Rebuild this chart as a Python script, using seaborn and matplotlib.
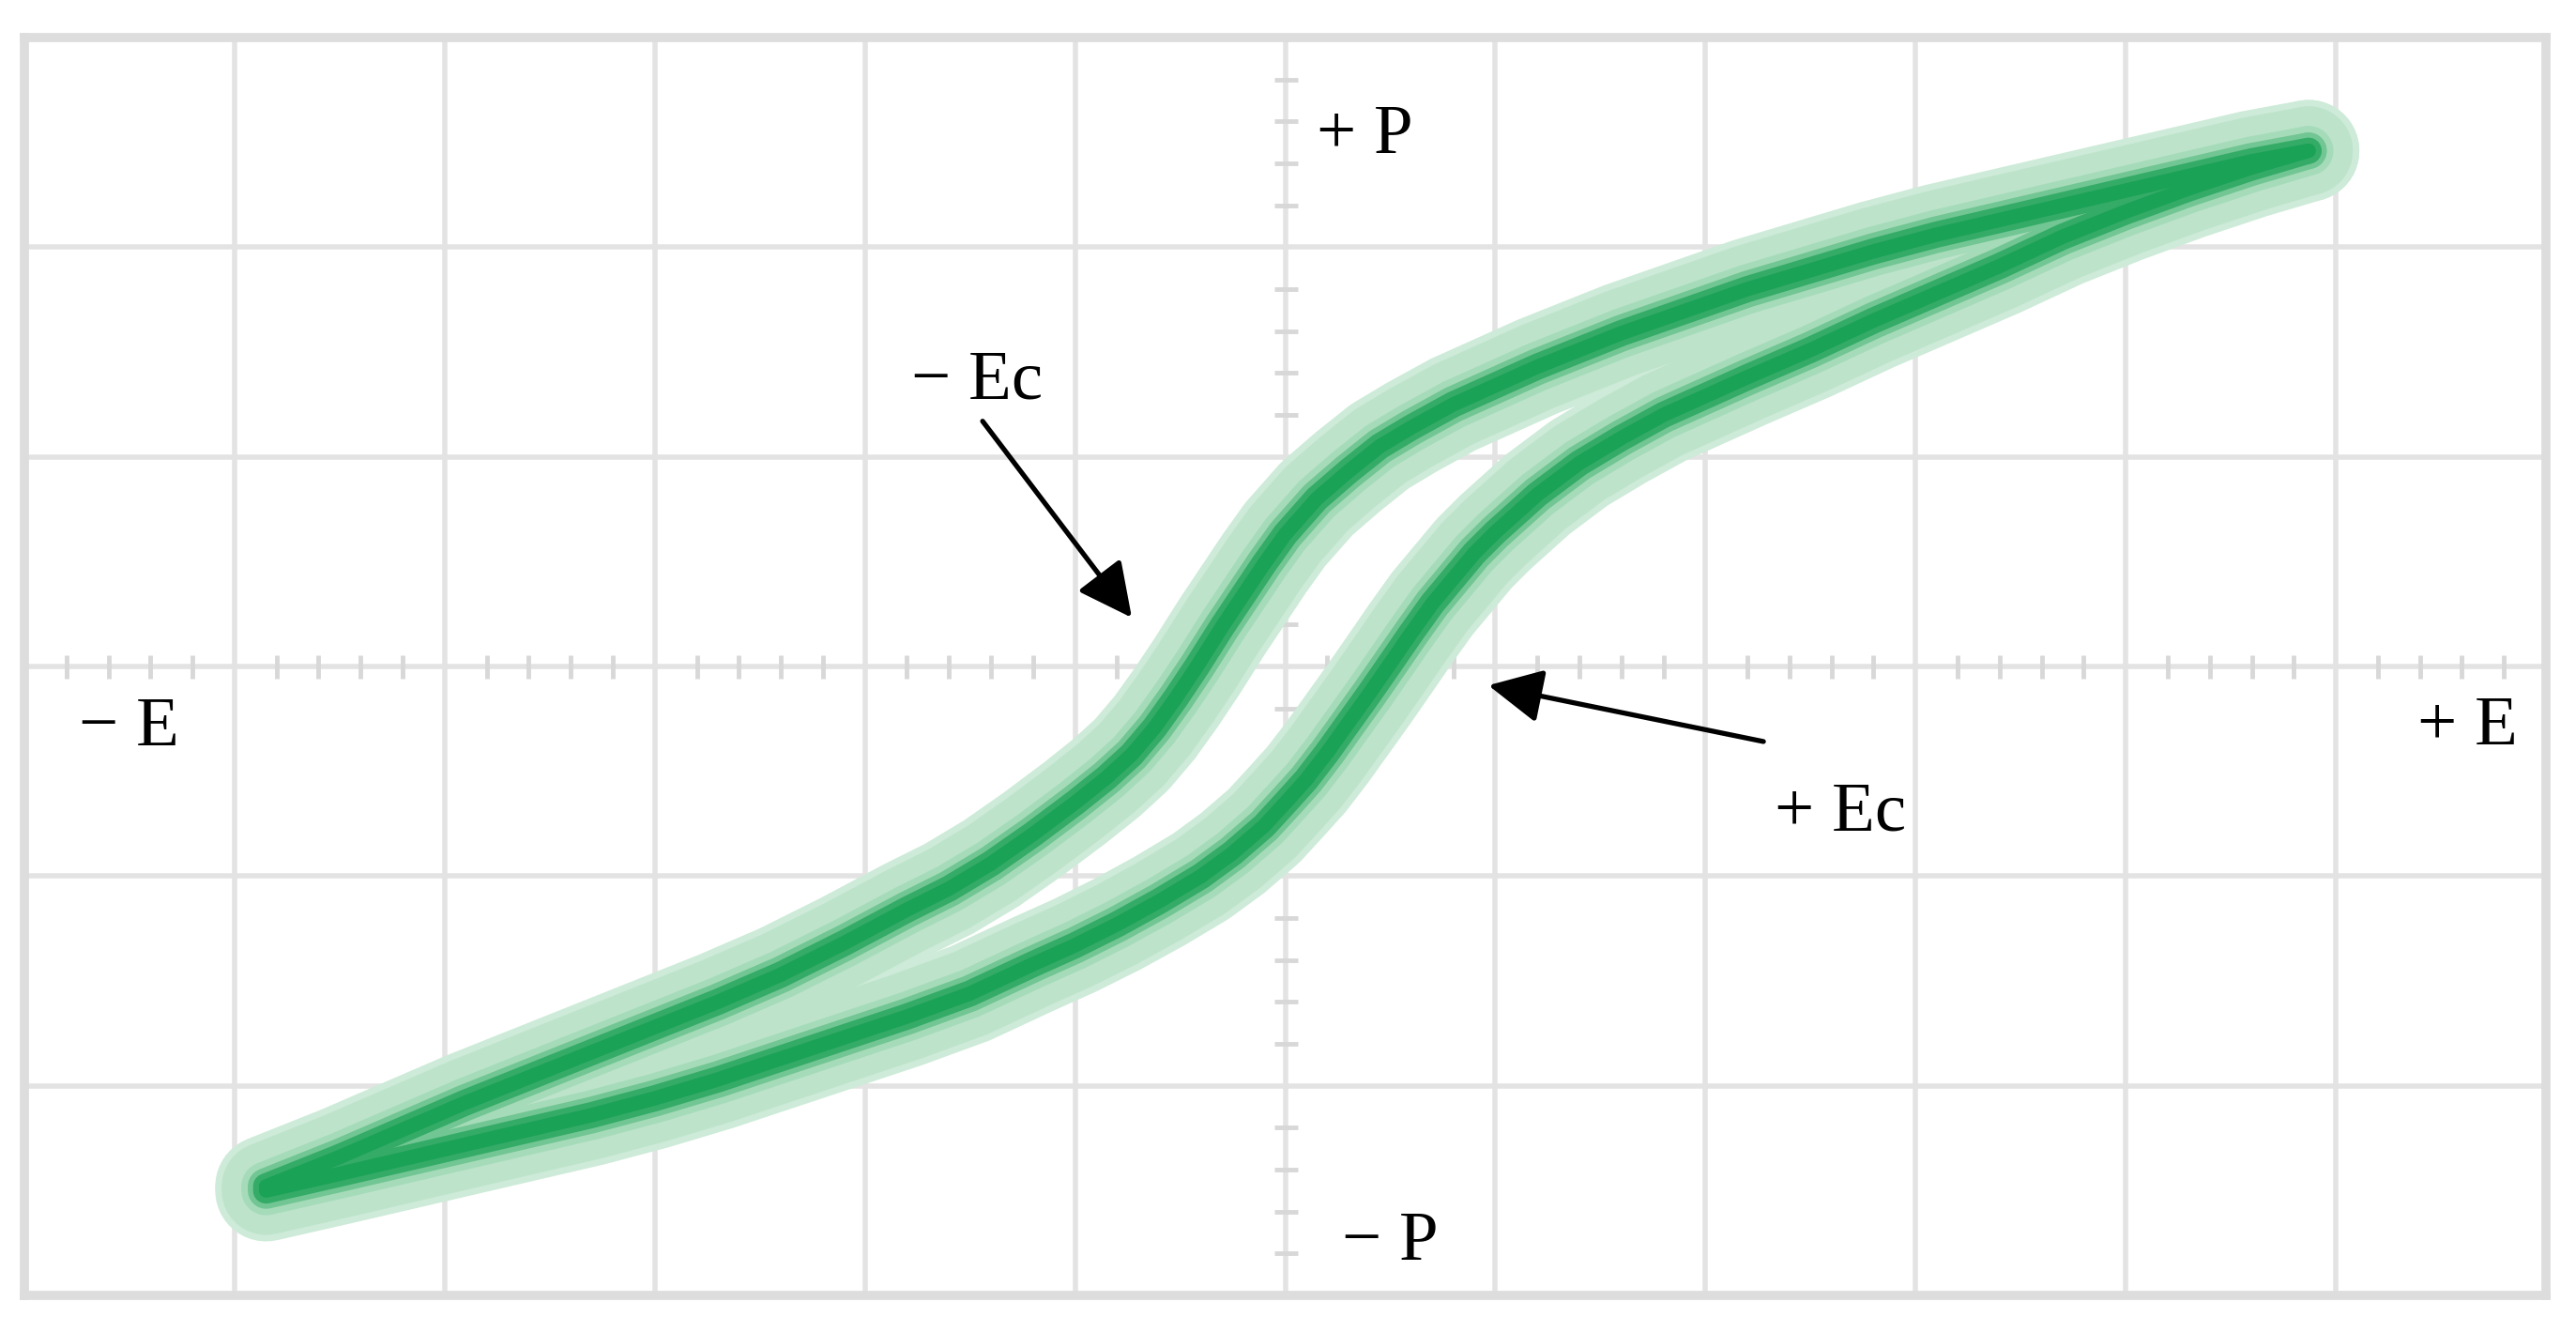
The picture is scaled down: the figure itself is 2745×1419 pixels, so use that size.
import numpy as np
import matplotlib
matplotlib.use('Agg')
import matplotlib.pyplot as plt
from matplotlib.ticker import MultipleLocator
import seaborn as sns

# ============================================================
# DATA (in screen divisions)
# ============================================================

# upper branch: from +E tip back to -E tip
upper_e = [4.87, 4.6, 4.3, 4.0, 3.7, 3.4, 3.1, 2.8, 2.5, 2.2, 2.0, 1.8, 1.6,
           1.4, 1.2, 1.0, 0.8, 0.6, 0.45, 0.3, 0.15, 0.0, -0.1, -0.2, -0.3,
           -0.42, -0.52, -0.62, -0.73, -0.85, -1.0, -1.2, -1.4, -1.6, -1.8,
           -2.1, -2.4, -2.7, -3.0, -3.3, -3.6, -3.9, -4.2, -4.5, -4.85]
upper_p = [2.46, 2.41, 2.34, 2.27, 2.20, 2.13, 2.06, 1.98, 1.89, 1.80, 1.73,
           1.66, 1.59, 1.51, 1.43, 1.34, 1.25, 1.14, 1.05, 0.93, 0.80, 0.63,
           0.49, 0.34, 0.19, 0.0, -0.15, -0.29, -0.42, -0.53, -0.65, -0.80,
           -0.94, -1.06, -1.16, -1.32, -1.47, -1.60, -1.72, -1.84, -1.96,
           -2.08, -2.21, -2.34, -2.48]

# lower branch: from -E tip up to +E tip
lower_e = [-4.85, -4.5, -4.2, -3.9, -3.6, -3.3, -3.0, -2.7, -2.4, -2.1, -1.8,
           -1.5, -1.2, -1.0, -0.8, -0.6, -0.4, -0.25, -0.1, 0.01, 0.1, 0.2,
           0.3, 0.4, 0.49, 0.6, 0.7, 0.8, 0.9, 1.0, 1.2, 1.4, 1.6, 1.8, 2.0,
           2.2, 2.5, 2.8, 3.1, 3.4, 3.7, 4.0, 4.3, 4.6, 4.87]
lower_p = [-2.50, -2.42, -2.35, -2.28, -2.21, -2.14, -2.06, -1.97, -1.87,
           -1.77, -1.67, -1.56, -1.42, -1.33, -1.23, -1.12, -1.00, -0.89,
           -0.76, -0.64, -0.54, -0.41, -0.27, -0.13, 0.0, 0.16, 0.30, 0.42,
           0.54, 0.64, 0.82, 0.97, 1.09, 1.20, 1.29, 1.38, 1.51, 1.65, 1.78,
           1.91, 2.05, 2.17, 2.28, 2.38, 2.46]

# labels: (text, x, y)
axis_labels = [('+ P', 0.15, 2.45), ('\u2212 P', 0.27, -2.83),
               ('\u2212 E', -5.74, -0.376), ('+ E', 5.39, -0.37)]
ec_labels = [('\u2212 Ec', -1.78, 1.28), ('+ Ec', 2.33, -0.78)]
# arrows: (tail, tip)
ec_arrows = [((-1.44, 1.17), (-0.73, 0.233)), ((2.276, -0.358), (0.967, -0.09))]

# ============================================================
# SETUP
# ============================================================

sns.set_style('white')
plt.rcParams['font.family'] = ['Liberation Serif', 'DejaVu Serif']

fig = plt.figure(figsize=(27.45, 14.19), dpi=100)
ax = fig.add_axes([26 / 2745, 39 / 1419, 2687 / 2745, 1340 / 1419])

ax.set_xlim(-6, 6)
ax.set_ylim(-3, 3)
ax.xaxis.set_major_locator(MultipleLocator(1))
ax.yaxis.set_major_locator(MultipleLocator(1))
ax.grid(True, color='#e3e3e3', linewidth=4.0)
ax.set_axisbelow(True)
ax.tick_params(length=0, labelbottom=False, labelleft=False)
for sp in ax.spines.values():
    sp.set_visible(True)
    sp.set_color('#dddddd')
    sp.set_linewidth(7)

# small division marks along the centre axes
minor = np.arange(-6, 6.001, 0.2)
minor = minor[np.abs(minor - np.round(minor)) > 1e-6]
minor_y = minor[np.abs(minor) < 3]
ax.plot(minor, np.zeros_like(minor), ls='none', marker='|', ms=18, mew=3.5,
        color='#d8d8d8', zorder=1)
ax.plot(np.zeros_like(minor_y), minor_y, ls='none', marker='_', ms=18, mew=3.5,
        color='#d8d8d8', zorder=1)

# ============================================================
# TRACE: layered widths give the glowing phosphor look
# ============================================================

layers = [(78, '#cdebd8'), (68, '#bde4cb'), (38, '#a6dbba'),
          (28, '#72c693'), (20, '#34ab67'), (11, '#1aa257')]
for z, (lw, col) in enumerate(layers):
    for xs, ys in [(upper_e, upper_p), (lower_e, lower_p)]:
        sns.lineplot(x=xs, y=ys, sort=False, estimator=None, ax=ax,
                     color=col, linewidth=lw, zorder=2 + z * 0.1)
for line in ax.get_lines()[2:]:
    line.set_solid_capstyle('round')
    line.set_solid_joinstyle('round')

# ============================================================
# LABELS AND ARROWS
# ============================================================

for txt, x, y in axis_labels + ec_labels:
    ax.text(x, y, txt, fontsize=54, ha='left', va='baseline', color='black',
            zorder=5)

for tail, tip in ec_arrows:
    ax.annotate('', xy=tip, xytext=tail, zorder=5,
                arrowprops=dict(arrowstyle='-|>,head_length=0.4,head_width=0.2',
                                mutation_scale=88, lw=3.8, color='black',
                                shrinkA=0, shrinkB=0))

ax.set_xlabel('')
ax.set_ylabel('')
fig.savefig('out.png', dpi=100, facecolor='white')
